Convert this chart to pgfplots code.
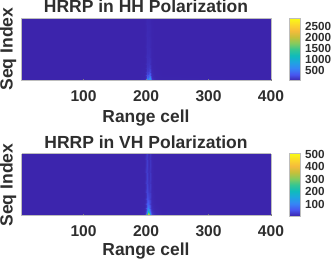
\documentclass[border=0pt]{standalone}
\usepackage{fontspec}
\setmainfont{Liberation Sans}
\usepackage{pgfplots}
\pgfplotsset{compat=1.18}
\definecolor{txt}{gray}{0.18}
\definecolor{frm}{gray}{0.74}
\pgfplotsset{
 colormap={par}{
  rgb255(0)=(60,36,172) rgb255(1)=(72,86,240) rgb255(2)=(54,134,245) rgb255(3)=(30,165,224)
  rgb255(4)=(15,187,187) rgb255(5)=(53,198,146) rgb255(6)=(132,203,94) rgb255(7)=(198,192,58)
  rgb255(8)=(245,187,60) rgb255(9)=(251,216,43) rgb255(10)=(249,251,21)},
 hrrp/.style={
  scale only axis, width=249.3pt, height=62.4pt,
  xmin=1, xmax=400, ymin=0, ymax=100,
  view={0}{90}, colormap name=par,
  xtick={100,200,300,400}, ytick=\empty,
  tick align=inside, major tick length=2pt,
  xtick pos=bottom,
  axis line style={frm, line width=1pt},
  every tick/.append style={gray, line width=0.5pt},
  /pgf/number format/assume math mode=true,
  /pgf/number format/1000 sep={},
  axis on top,
  tick label style={text=txt, font=\fontsize{15.6pt}{16pt}\selectfont\bfseries},
  xticklabel style={yshift=-6pt},
  colorbar,
  colorbar style={
    at={(1.0754,0)}, anchor=south west,
    width=10.7pt, height=62.4pt, scale only axis,
    ytick pos=right, yticklabel pos=right,
    tick align=inside, major tick length=0pt,
    axis line style={frm, line width=0.8pt},
    /pgf/number format/assume math mode=true,
    /pgf/number format/1000 sep={},
    yticklabel style={text=txt, font=\fontsize{11.7pt}{12pt}\selectfont\bfseries, xshift=1pt},
  },
 }
}
\begin{document}
\begin{tikzpicture}[x=1pt,y=1pt]
\path[use as bounding box] (0,0) rectangle (333,262);
\begin{axis}[hrrp, at={(21.7pt,181.3pt)}, anchor=south west,
  point meta min=53, point meta max=2844,
  colorbar style={ytick={500,1000,1500,2000,2500}}]
\addplot3[surf, shader=interp, mesh/cols=15, mesh/ordering=x varies] coordinates {
(1,0,55)(190,0,55)(197,0,70)(199,0,120)(200.5,0,280)(202,0,750)(203.5,0,950)(205,0,1150)(206.5,0,1300)(208,0,500)(209.5,0,200)(212,0,110)(216,0,75)(225,0,60)(400,0,55)
(1,1.5,55)(190,1.5,55)(197,1.5,68)(199,1.5,105)(200.5,1.5,250)(202,1.5,700)(203.5,1.5,800)(205,1.5,1000)(206.5,1.5,1100)(208,1.5,450)(209.5,1.5,170)(212,1.5,100)(216,1.5,70)(225,1.5,58)(400,1.5,55)
(1,3,55)(190,3,55)(197,3,65)(199,3,90)(200.5,3,200)(202,3,600)(203.5,3,560)(205,3,750)(206.5,3,850)(208,3,360)(209.5,3,140)(212,3,85)(216,3,65)(225,3,57)(400,3,55)
(1,6,55)(190,6,55)(197,6,62)(199,6,75)(200.5,6,140)(202,6,400)(203.5,6,360)(205,6,500)(206.5,6,580)(208,6,250)(209.5,6,100)(212,6,70)(216,6,60)(225,6,56)(400,6,55)
(1,10,55)(190,10,55)(197,10,58)(199,10,68)(200.5,10,110)(202,10,250)(203.5,10,230)(205,10,310)(206.5,10,360)(208,10,170)(209.5,10,85)(212,10,62)(216,10,57)(225,10,55)(400,10,55)
(1,15,55)(190,15,55)(197,15,57)(199,15,62)(200.5,15,90)(202,15,180)(203.5,15,170)(205,15,210)(206.5,15,230)(208,15,120)(209.5,15,72)(212,15,58)(216,15,56)(225,15,55)(400,15,55)
(1,22,55)(190,22,55)(197,22,56)(199,22,60)(200.5,22,80)(202,22,140)(203.5,22,140)(205,22,160)(206.5,22,160)(208,22,95)(209.5,22,65)(212,22,57)(216,22,55)(225,22,55)(400,22,55)
(1,30,55)(190,30,55)(197,30,55)(199,30,58)(200.5,30,74)(202,30,120)(203.5,30,120)(205,30,130)(206.5,30,120)(208,30,82)(209.5,30,62)(212,30,56)(216,30,55)(225,30,55)(400,30,55)
(1,45,55)(190,45,55)(197,45,55)(199,45,57)(200.5,45,70)(202,45,105)(203.5,45,100)(205,45,105)(206.5,45,95)(208,45,72)(209.5,45,60)(212,45,55)(216,45,55)(225,45,55)(400,45,55)
(1,60,55)(190,60,55)(197,60,55)(199,60,57)(200.5,60,68)(202,60,95)(203.5,60,90)(205,60,92)(206.5,60,82)(208,60,68)(209.5,60,58)(212,60,55)(216,60,55)(225,60,55)(400,60,55)
(1,80,55)(190,80,55)(197,80,55)(199,80,56)(200.5,80,66)(202,80,88)(203.5,80,84)(205,80,84)(206.5,80,76)(208,80,65)(209.5,80,57)(212,80,55)(216,80,55)(225,80,55)(400,80,55)
(1,100,55)(190,100,55)(197,100,55)(199,100,56)(200.5,100,64)(202,100,80)(203.5,100,76)(205,100,76)(206.5,100,70)(208,100,62)(209.5,100,56)(212,100,55)(216,100,55)(225,100,55)(400,100,55)
};
\end{axis}
\begin{axis}[hrrp, at={(21.7pt,46pt)}, anchor=south west,
  point meta min=5, point meta max=505,
  colorbar style={ytick={100,200,300,400,500}}]
\addplot3[surf, shader=interp, mesh/cols=15, mesh/ordering=x varies] coordinates {
(1,0,6)(190,0,7)(197,0,12)(199,0,30)(200.5,0,100)(202,0,270)(203.5,0,480)(205,0,450)(206.5,0,240)(208,0,90)(209.5,0,45)(212,0,25)(216,0,14)(225,0,9)(400,0,6)
(1,1.5,6)(190,1.5,7)(197,1.5,11)(199,1.5,26)(200.5,1.5,82)(202,1.5,230)(203.5,1.5,430)(205,1.5,400)(206.5,1.5,190)(208,1.5,75)(209.5,1.5,38)(212,1.5,21)(216,1.5,12)(225,1.5,8)(400,1.5,6)
(1,3,6)(190,3,6)(197,3,10)(199,3,21)(200.5,3,66)(202,3,190)(203.5,3,360)(205,3,320)(206.5,3,150)(208,3,60)(209.5,3,30)(212,3,17)(216,3,11)(225,3,7)(400,3,6)
(1,6,6)(190,6,6)(197,6,9)(199,6,16)(200.5,6,46)(202,6,130)(203.5,6,250)(205,6,210)(206.5,6,95)(208,6,42)(209.5,6,22)(212,6,13)(216,6,9)(225,6,7)(400,6,6)
(1,10,6)(190,10,6)(197,10,8)(199,10,13)(200.5,10,32)(202,10,90)(203.5,10,150)(205,10,120)(206.5,10,68)(208,10,30)(209.5,10,16)(212,10,10)(216,10,8)(225,10,6)(400,10,6)
(1,15,6)(190,15,6)(197,15,7)(199,15,11)(200.5,15,24)(202,15,62)(203.5,15,90)(205,15,75)(206.5,15,48)(208,15,22)(209.5,15,12)(212,15,8)(216,15,7)(225,15,6)(400,15,6)
(1,22,6)(190,22,6)(197,22,7)(199,22,10)(200.5,22,20)(202,22,48)(203.5,22,58)(205,22,48)(206.5,22,36)(208,22,18)(209.5,22,10)(212,22,7)(216,22,6)(225,22,6)(400,22,6)
(1,30,6)(190,30,6)(197,30,6)(199,30,9)(200.5,30,18)(202,30,42)(203.5,30,40)(205,30,34)(206.5,30,29)(208,30,16)(209.5,30,9)(212,30,7)(216,30,6)(225,30,6)(400,30,6)
(1,45,6)(190,45,6)(197,45,6)(199,45,9)(200.5,45,20)(202,45,36)(203.5,45,26)(205,45,20)(206.5,45,25)(208,45,15)(209.5,45,8)(212,45,6)(216,45,6)(225,45,6)(400,45,6)
(1,60,6)(190,60,6)(197,60,6)(199,60,9)(200.5,60,20)(202,60,32)(203.5,60,20)(205,60,15)(206.5,60,23)(208,60,15)(209.5,60,8)(212,60,6)(216,60,6)(225,60,6)(400,60,6)
(1,80,6)(190,80,6)(197,80,6)(199,80,9)(200.5,80,20)(202,80,30)(203.5,80,17)(205,80,12)(206.5,80,22)(208,80,14)(209.5,80,8)(212,80,6)(216,80,6)(225,80,6)(400,80,6)
(1,100,6)(190,100,6)(197,100,6)(199,100,8)(200.5,100,18)(202,100,28)(203.5,100,15)(205,100,11)(206.5,100,20)(208,100,12)(209.5,100,7)(212,100,6)(216,100,6)(225,100,6)(400,100,6)
};
\end{axis}
\node[text=txt, font=\fontsize{17.5pt}{18pt}\selectfont\bfseries] at (146,255.3) {HRRP in HH Polarization};
\node[text=txt, font=\fontsize{17.5pt}{18pt}\selectfont\bfseries] at (146,120) {HRRP in VH Polarization};
\node[text=txt, font=\fontsize{17.6pt}{18pt}\selectfont\bfseries, rotate=90] at (8,213) {Seq Index};
\node[text=txt, font=\fontsize{17.6pt}{18pt}\selectfont\bfseries, rotate=90] at (8,77) {Seq Index};
\node[text=txt, font=\fontsize{17.4pt}{18pt}\selectfont\bfseries] at (146,144) {Range cell};
\node[text=txt, font=\fontsize{17.4pt}{18pt}\selectfont\bfseries] at (146,10.5) {Range cell};
\end{tikzpicture}
\end{document}
